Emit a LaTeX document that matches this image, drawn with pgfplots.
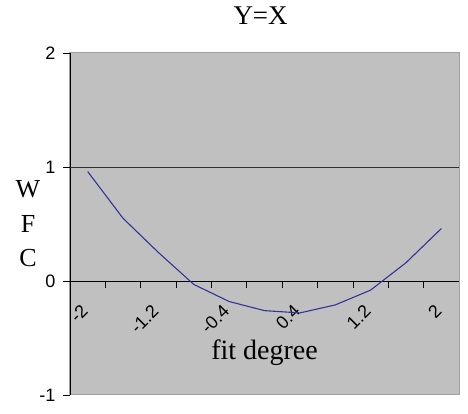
\documentclass[border=0pt]{standalone}
\usepackage{fontspec}
\setmainfont{Liberation Serif}
\newfontfamily\arial{Liberation Sans}
\usepackage{pgfplots}
\pgfplotsset{compat=1.18}
\definecolor{plotbg}{HTML}{C0C0C0}
\definecolor{plotedge}{HTML}{A0A0A0}
\definecolor{curve}{HTML}{333399}
\definecolor{gridc}{HTML}{303030}

\begin{document}
\begin{tikzpicture}
\begin{axis}[
  scale only axis,
  width=389pt, height=342pt,
  xmin=-2.2, xmax=2.2, ymin=-1, ymax=2,
  axis x line*=middle, axis y line*=left,
  axis line style={black, line width=0.8pt, -},
  axis background/.style={fill=plotbg, draw=plotedge, line width=1pt},
  clip=false,
  major tick length=7pt,
  tick style={black, line width=0.8pt},
  xtick align=outside, ytick align=outside,
  xtick={-1.8,-1.4,-1,-0.6,-0.2,0.2,0.6,1,1.4,1.8},
  xticklabels={},
  extra x ticks={-2,-1.2,-0.4,0.4,1.2,2},
  extra x tick labels={-2,-1.2,-0.4,0.4,1.2,2},
  extra x tick style={major tick length=0pt,
    tick label style={xshift=-3pt, yshift=-27pt, rotate=45, anchor=east,
      inner sep=0pt, font=\fontsize{18}{20}\selectfont\arial}},
  ytick={-1,0,1,2},
  yticklabels={-1,0,1,2},
  y tick label style={font=\fontsize{18}{20}\selectfont\arial, xshift=-4pt},
  extra y ticks={1},
  extra y tick labels={},
  extra y tick style={major tick length=0pt, ymajorgrids=true,
    major grid style={gridc, line width=0.8pt}},
  title={Y=X},
  title style={at={(rel axis cs:0.49,1)}, anchor=base, yshift=22pt, font=\fontsize{27}{30}\selectfont},
  xlabel={fit degree},
  xlabel style={at={(rel axis cs:0.5,0.123)}, anchor=center, font=\fontsize{28}{30}\selectfont},
  every axis y label/.style={at={(rel axis cs:0,0.5)}, anchor=center, xshift=-42pt, align=center,
    font=\fontsize{26}{34.5}\selectfont},
  ylabel={W\\F\\C},
]
\addplot[curve, line width=1.1pt] coordinates {
  (-2,0.96) (-1.6,0.55) (-1.2,0.25) (-0.8,-0.03) (-0.4,-0.18) (0,-0.26)
  (0.4,-0.28) (0.8,-0.21) (1.2,-0.08) (1.6,0.16) (2,0.46)
};
\pgfplotsinvokeforeach{-1.8,-1.4,-1,-0.6,-0.2,0.2,0.6,1,1.4,1.8}{
  \draw[black, line width=0.8pt] (axis cs:#1,0) -- ([yshift=-5pt]axis cs:#1,0);
}
\path ([xshift=-70pt,yshift=-19pt]rel axis cs:0,0) -- ([xshift=9pt,yshift=53pt]rel axis cs:1,1);
\end{axis}
\end{tikzpicture}
\end{document}
